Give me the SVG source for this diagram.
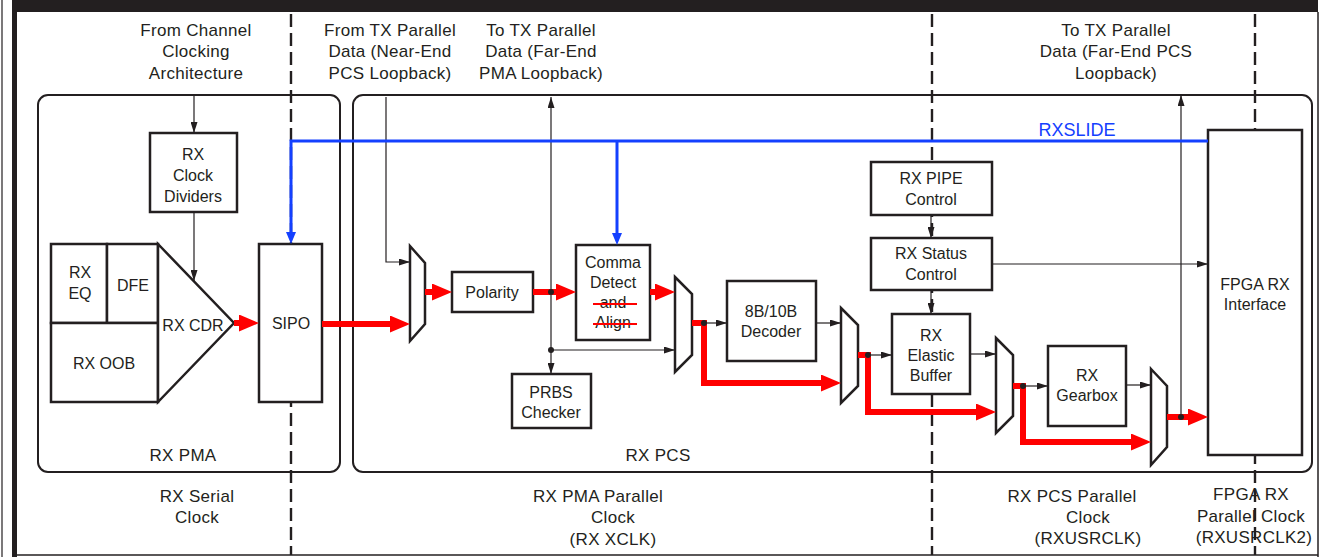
<svg xmlns="http://www.w3.org/2000/svg" width="1322" height="557" viewBox="0 0 1322 557">
  <style>
    text { font-family: "Liberation Sans", Arial, sans-serif; fill: #231f20; text-anchor: middle; }
    .t { font-size: 16px; }
    .lbl { font-size: 17px; letter-spacing: 0.3px; }
    .slide { font-size: 18px; fill: #1440ff; }
    .box { fill: #ffffff; stroke: #231f20; stroke-width: 2.5; }
    .mux { fill: #ffffff; stroke: #231f20; stroke-width: 2.5; stroke-linejoin: miter; }
    .area { fill: none; stroke: #231f20; stroke-width: 2; }
    .dash { fill: none; stroke: #231f20; stroke-width: 2.4; stroke-dasharray: 13 6; }
    .thin { fill: none; stroke: #231f20; stroke-width: 1.2; }
    .data { fill: none; stroke: #ff0000; stroke-width: 6; stroke-linejoin: miter; }
    .ctl { fill: none; stroke: #1440ff; stroke-width: 3; }
    .strike { stroke: #ff0000; stroke-width: 2; }
  </style>
  <defs>
    <marker id="ah" viewBox="0 0 11 7" refX="11" refY="3.5" markerWidth="11" markerHeight="7" markerUnits="userSpaceOnUse" orient="auto">
      <path d="M0,0 L11,3.5 L0,7 z" fill="#231f20"/>
    </marker>
    <marker id="ahRed" viewBox="0 0 20 17" refX="8" refY="8.5" markerWidth="20" markerHeight="17" markerUnits="userSpaceOnUse" orient="auto">
      <path d="M0,0 L20,8.5 L0,17 z" fill="#ff0000"/>
    </marker>
    <marker id="ahBlue" viewBox="0 0 12 10" refX="6" refY="5" markerWidth="12" markerHeight="10" markerUnits="userSpaceOnUse" orient="auto">
      <path d="M0,0 L12,5 L0,10 z" fill="#1440ff"/>
    </marker>
  </defs>

  <rect width="1322" height="557" fill="#ffffff"/>

  <!-- page frame -->
  <g id="frame">
    <rect x="12" y="0" width="1306" height="12" fill="#231f20"/>
    <rect x="12" y="0" width="5" height="557" fill="#231f20"/>
    <line x1="2" y1="0" x2="2" y2="557" stroke="#231f20" stroke-width="1.2"/>
    <line x1="1318" y1="12" x2="1318" y2="557" stroke="#231f20" stroke-width="1.5"/>
    <line x1="12" y1="555" x2="1318" y2="555" stroke="#231f20" stroke-width="1.5"/>
  </g>

  <!-- clock domain boundaries -->
  <g id="domains">
    <line class="dash" x1="291" y1="14" x2="291" y2="555"/>
    <line class="dash" x1="932" y1="14" x2="932" y2="555"/>
    <line class="dash" x1="1255" y1="14" x2="1255" y2="555"/>
  </g>

  <!-- PMA and PCS sections -->
  <g id="rx-pma">
    <rect class="area" x="38" y="95" width="302" height="377" rx="10"/>
    <text class="lbl" x="183" y="461">RX PMA</text>
  </g>
  <g id="rx-pcs">
    <rect class="area" x="353" y="95" width="959" height="377" rx="10"/>
    <text class="lbl" x="658" y="461">RX PCS</text>
  </g>

  <!-- external labels -->
  <g id="labels">
    <text class="lbl" x="196" y="36">From Channel</text>
    <text class="lbl" x="196" y="57">Clocking</text>
    <text class="lbl" x="196" y="79">Architecture</text>

    <text class="lbl" x="390" y="36">From TX Parallel</text>
    <text class="lbl" x="390" y="57">Data (Near-End</text>
    <text class="lbl" x="390" y="79">PCS Loopback)</text>

    <text class="lbl" x="541" y="36">To TX Parallel</text>
    <text class="lbl" x="541" y="57">Data (Far-End</text>
    <text class="lbl" x="541" y="79">PMA Loopback)</text>

    <text class="lbl" x="1116" y="36">To TX Parallel</text>
    <text class="lbl" x="1116" y="57">Data (Far-End PCS</text>
    <text class="lbl" x="1116" y="79">Loopback)</text>

    <text class="lbl" x="197" y="502">RX Serial</text>
    <text class="lbl" x="197" y="523">Clock</text>

    <text class="lbl" x="598" y="502">RX PMA Parallel</text>
    <text class="lbl" x="613" y="523">Clock</text>
    <text class="lbl" x="613" y="545">(RX XCLK)</text>

    <text class="lbl" x="1072" y="502">RX PCS Parallel</text>
    <text class="lbl" x="1088" y="523">Clock</text>
    <text class="lbl" x="1088" y="544">(RXUSRCLK)</text>

    <text class="lbl" x="1251" y="500">FPGA RX</text>
    <text class="lbl" x="1251" y="522">Parallel Clock</text>
    <text class="lbl" x="1254" y="543">(RXUSRCLK2)</text>

    <text class="slide" x="1077" y="136">RXSLIDE</text>
  </g>

  <!-- blocks -->
  <g id="clock-dividers">
    <rect class="box" x="150" y="133" width="87" height="79"/>
    <text class="t" x="193" y="160">RX</text>
    <text class="t" x="193" y="181">Clock</text>
    <text class="t" x="193" y="202">Dividers</text>
  </g>
  <g id="rx-eq">
    <rect class="box" x="51" y="244" width="56" height="79"/>
    <text class="t" x="80" y="278">RX</text>
    <text class="t" x="80" y="299">EQ</text>
  </g>
  <g id="dfe">
    <rect class="box" x="107" y="244" width="51" height="79"/>
    <text class="t" x="133" y="291">DFE</text>
  </g>
  <g id="rx-oob">
    <rect class="box" x="51" y="323" width="107" height="79"/>
    <text class="t" x="104" y="369">RX OOB</text>
  </g>
  <g id="rx-cdr">
    <polygon class="box" points="158,244 234,323 158,402"/>
    <text class="t" x="193" y="331">RX CDR</text>
  </g>
  <g id="sipo">
    <rect class="box" x="259" y="244" width="63" height="158"/>
    <text class="t" x="291" y="329">SIPO</text>
  </g>
  <g id="mux-loopback">
    <polygon class="mux" points="410,246 425,263 425,324 410,341"/>
  </g>
  <g id="polarity">
    <rect class="box" x="452" y="272" width="81" height="40"/>
    <text class="t" x="492" y="298">Polarity</text>
  </g>
  <g id="comma-detect">
    <rect class="box" x="576" y="245" width="74" height="95"/>
    <text class="t" x="613" y="268">Comma</text>
    <text class="t" x="613" y="288">Detect</text>
    <text class="t" x="613" y="308">and</text>
    <text class="t" x="613" y="328">Align</text>
    <line class="strike" x1="593" y1="304" x2="637" y2="304"/>
    <line class="strike" x1="593" y1="324" x2="637" y2="324"/>
  </g>
  <g id="prbs-checker">
    <rect class="box" x="512" y="374" width="79" height="54"/>
    <text class="t" x="551" y="398">PRBS</text>
    <text class="t" x="551" y="418">Checker</text>
  </g>
  <g id="mux-comma">
    <polygon class="mux" points="675,277 692,294 692,355 675,372"/>
  </g>
  <g id="decoder">
    <rect class="box" x="727" y="281" width="89" height="80"/>
    <text class="t" x="771" y="317">8B/10B</text>
    <text class="t" x="771" y="337">Decoder</text>
  </g>
  <g id="mux-decoder">
    <polygon class="mux" points="841,308 858,325 858,386 841,403"/>
  </g>
  <g id="pipe-control">
    <rect class="box" x="871" y="162" width="121" height="53"/>
    <text class="t" x="931" y="184">RX PIPE</text>
    <text class="t" x="931" y="205">Control</text>
  </g>
  <g id="status-control">
    <rect class="box" x="871" y="238" width="121" height="52"/>
    <text class="t" x="931" y="259">RX Status</text>
    <text class="t" x="931" y="280">Control</text>
  </g>
  <g id="elastic-buffer">
    <rect class="box" x="892" y="314" width="78" height="80"/>
    <text class="t" x="931" y="341">RX</text>
    <text class="t" x="931" y="361">Elastic</text>
    <text class="t" x="931" y="381">Buffer</text>
  </g>
  <g id="mux-buffer">
    <polygon class="mux" points="996,338 1013,355 1013,416 996,433"/>
  </g>
  <g id="gearbox">
    <rect class="box" x="1048" y="346" width="78" height="80"/>
    <text class="t" x="1087" y="381">RX</text>
    <text class="t" x="1087" y="401">Gearbox</text>
  </g>
  <g id="mux-gearbox">
    <polygon class="mux" points="1151,369 1167,386 1167,447 1151,465"/>
  </g>
  <g id="fpga-interface">
    <rect class="box" x="1208" y="130" width="94" height="325"/>
    <text class="t" x="1255" y="290">FPGA RX</text>
    <text class="t" x="1255" y="310">Interface</text>
  </g>

  <!-- connectors -->
  <g id="connectors">
    <!-- clocks and control -->
    <path class="thin" d="M194,96 V133" marker-end="url(#ah)"/>
    <path class="thin" d="M194,212 V281" marker-end="url(#ah)"/>
    <path class="thin" d="M386,97 V262 H410" marker-end="url(#ah)"/>
    <path class="thin" d="M551,350 V97" marker-end="url(#ah)"/>
    <path class="thin" d="M551,350 V374" marker-end="url(#ah)"/>
    <path class="thin" d="M551,350 H675" marker-end="url(#ah)"/>
    <path class="thin" d="M703,323 H727" marker-end="url(#ah)"/>
    <path class="thin" d="M816,323 H841" marker-end="url(#ah)"/>
    <path class="thin" d="M868,355 H892" marker-end="url(#ah)"/>
    <path class="thin" d="M970,354 H996" marker-end="url(#ah)"/>
    <path class="thin" d="M1023,386 H1048" marker-end="url(#ah)"/>
    <path class="thin" d="M1126,385 H1151" marker-end="url(#ah)"/>
    <path class="thin" d="M1181,417 V95" marker-end="url(#ah)"/>
    <path class="thin" d="M931,215 V238" marker-end="url(#ah)"/>
    <path class="thin" d="M931,290 V314" marker-end="url(#ah)"/>
    <path class="thin" d="M992,264 H1208" marker-end="url(#ah)"/>

    <!-- RXSLIDE -->
    <path class="ctl" d="M1208,141 H291 V238" marker-end="url(#ahBlue)"/>
    <path class="ctl" d="M617,141 V239" marker-end="url(#ahBlue)"/>

    <!-- data path -->
    <path class="data" d="M234,323 H247" marker-end="url(#ahRed)"/>
    <path class="data" d="M322,324 H398" marker-end="url(#ahRed)"/>
    <path class="data" d="M425,292 H440" marker-end="url(#ahRed)"/>
    <path class="data" d="M533,292 H564" marker-end="url(#ahRed)"/>
    <path class="data" d="M650,292 H663" marker-end="url(#ahRed)"/>
    <path class="data" d="M692,323 H704 V383 H829" marker-end="url(#ahRed)"/>
    <path class="data" d="M858,355 H868 V412 H984" marker-end="url(#ahRed)"/>
    <path class="data" d="M1013,386 H1023 V442 H1139" marker-end="url(#ahRed)"/>
    <path class="data" d="M1167,417 H1196" marker-end="url(#ahRed)"/>

    <!-- branch points -->
    <circle cx="551" cy="292" r="3" fill="#231f20"/>
    <circle cx="551" cy="350" r="3" fill="#231f20"/>
    <circle cx="704" cy="323" r="3" fill="#231f20"/>
    <circle cx="868" cy="355" r="3" fill="#231f20"/>
    <circle cx="1023" cy="386" r="3" fill="#231f20"/>
    <circle cx="1181" cy="417" r="3" fill="#231f20"/>
  </g>
</svg>
